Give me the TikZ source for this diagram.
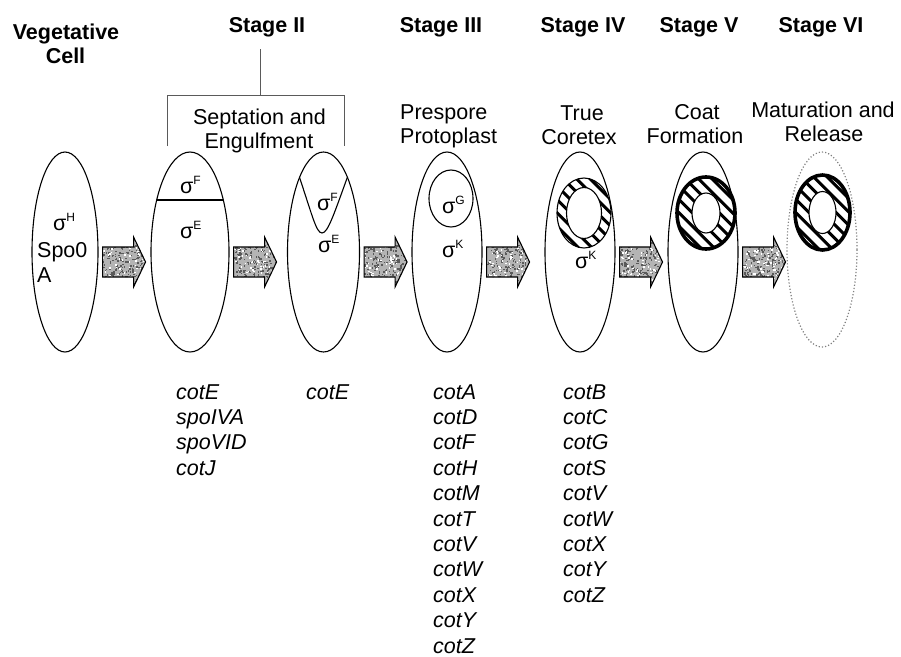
\documentclass[tikz,border=0pt]{standalone}
\usepackage{fontspec}
\setmainfont{Liberation Sans}
\usepackage{tikz}
\usetikzlibrary{shapes.geometric, positioning, calc}

\definecolor{arrowgrey}{RGB}{180,180,180}
\definecolor{speckgrey}{RGB}{90,90,90}
\definecolor{bracketgrey}{RGB}{90,90,90}

% sigma factor with raised letter
\newcommand{\sfactor}[1]{σ\raisebox{9pt}{\fontsize{12}{12}\selectfont #1}}

% outline of a block arrow starting at the shaft's left middle
\newcommand{\arrowoutline}[1]{(#1) -- ++(0,-15) -- ++(31,0) -- ++(0,-10) -- ++(12,25)
  -- ++(-12,25) -- ++(0,-10) -- ++(-31,0) -- cycle}

% grainy block arrow to the right of a cell
\newcommand{\stagearrow}[2]{%
  \path ([shift={(4,10)}]#1.east) coordinate (#2);
  \fill[arrowgrey] \arrowoutline{#2};
  \begin{scope}
    \clip \arrowoutline{#2};
    \foreach \s in {1,...,260}
      \fill[speckgrey] ($(#2)+(rnd*44, rnd*54-27)$) rectangle ++(1.5,1.5);
    \foreach \s in {1,...,90}
      \fill[white] ($(#2)+(rnd*44, rnd*54-27)$) rectangle ++(1.5,1.5);
  \end{scope}
  \draw[line width=1.1pt] \arrowoutline{#2};
}

% hatched spore ring: centre, outer rx, outer ry, inner rx, inner ry, rim width
\newcommand{\sporering}[6]{%
  \begin{scope}
    \clip (#1) ellipse (#2pt and #3pt);
    \fill[white] (#1) ellipse (#2pt and #3pt);
    \foreach \k in {-8,...,8}
      \draw[line width=3pt] ($(#1)+(\k*13.4-50,-50)$) -- ++(100,100);
  \end{scope}
  \draw[line width=1.1pt, fill=white] (#1) ellipse (#4pt and #5pt);
  \draw[line width=#6] (#1) ellipse (#2pt and #3pt);
}

\tikzset{
  cell/.style={ellipse, draw, line width=1.1pt, inner sep=0pt},
  title/.style={font=\fontsize{21.5}{24}\selectfont\bfseries, anchor=base, inner sep=0pt},
  caption/.style={font=\fontsize{21.5}{24}\selectfont, anchor=base, inner sep=0pt},
  genes/.style={font=\fontsize{21.5}{25.4}\selectfont\itshape, anchor=base west, inner sep=0pt},
  sigma/.style={font=\fontsize{21.5}{24}\selectfont, anchor=base west, inner sep=0pt},
  bracket/.style={draw=bracketgrey, line width=1pt}
}

\begin{document}
\begin{tikzpicture}[x=1pt, y=-1pt]
  \useasboundingbox (0,0) rectangle (901,656);
  \pgfmathsetseed{4711}

  % Stage headings
  \node[title] (vegtitle) at (66,39) {Vegetative};
  \node[title] (vegtitlecell) at (65.5,63) {Cell};
  \node[title] (stageII) at (267,32) {Stage II};
  \node[title] (stageIII) at (441,32) {Stage III};
  \node[title] (stageIV) at (583,32) {Stage IV};
  \node[title] (stageV) at (699,32) {Stage V};
  \node[title] (stageVI) at (821,32) {Stage VI};

  % Bracket over the two Stage II cells
  \coordinate (brtop) at (260,49);
  \coordinate (brmid) at (260,95);
  \coordinate (brleft) at (167,95);
  \coordinate (brright) at (344,95);
  \coordinate (brleftend) at (167,146);
  \coordinate (brrightend) at (344,146);
  \draw[bracket] (brtop) -- (brmid);
  \draw[bracket] (brleftend) -- (brleft) -- (brright) -- (brrightend);

  % Captions
  \node[caption] (septcap) at (259.5,124) {Septation and};
  \node[caption] (septcap2) at (259,148) {Engulfment};
  \node[caption, anchor=base west] (protcap) at (400,119) {Prespore};
  \node[caption, anchor=base west] (protcap2) at (400,143) {Protoplast};
  \node[caption] (cortcap) at (582,120) {True};
  \node[caption] (cortcap2) at (579,144) {Coretex};
  \node[caption] (coatcap) at (697,119) {Coat};
  \node[caption] (coatcap2) at (695,143) {Formation};
  \node[caption] (relcap) at (823,117) {Maturation and};
  \node[caption] (relcap2) at (824,141) {Release};

  % Cells
  \node[cell, minimum width=66pt, minimum height=200pt] (veg) at (65,252) {};
  \node[cell, minimum width=78pt, minimum height=200pt] (septum) at (190,252) {};
  \node[cell, minimum width=72pt, minimum height=200pt] (engulf) at (323.5,252) {};
  \node[cell, minimum width=70pt, minimum height=200pt] (prespore) at (447,252) {};
  \node[cell, minimum width=70pt, minimum height=200pt] (cortex) at (580,252) {};
  \node[cell, minimum width=70pt, minimum height=200pt] (coat) at (703,252) {};
  \node[cell, draw=gray, line width=1.2pt, dash pattern=on 1.2pt off 2pt,
    minimum width=70pt, minimum height=195pt] (release) at (822,249.5) {};

  % Septum and engulfing membrane
  \begin{scope}
    \clip (septum.center) ellipse (39pt and 100pt);
    \draw[line width=1.6pt] (145,200) -- (235,200);
  \end{scope}
  \begin{scope}
    \clip (engulf.center) ellipse (36pt and 100pt);
    \draw[line width=1.1pt] (297,170) .. controls (312,214) and (316,233) .. (322,233)
      .. controls (328,233) and (334,214) .. (350,170);
  \end{scope}
  \node[cell, minimum width=44pt, minimum height=57pt] (forespore) at (451,198.5) {};

  % Spore rings
  \coordinate (cortexcore) at (584,213);
  \sporering{cortexcore}{27}{35}{17.5}{25.5}{1.1pt}
  \coordinate (coatcore) at (706,213);
  \sporering{coatcore}{29}{36}{14}{20}{3.6pt}
  \coordinate (releasecore) at (822.5,212.5);
  \sporering{releasecore}{27.5}{37.5}{13.5}{21}{3.6pt}

  % Sigma factors
  \node[sigma] (sigH) at (53,230) {\sfactor{H}};
  \node[sigma] (spo) at (37,257) {Spo0};
  \node[sigma] (spoA) at (37,282) {A};
  \node[sigma] (sigF) at (180,193) {\sfactor{F}};
  \node[sigma] (sigE) at (180,238) {\sfactor{E}};
  \node[sigma] (sigFe) at (317,210) {\sfactor{F}};
  \node[sigma] (sigEe) at (318,252) {\sfactor{E}};
  \node[sigma] (sigG) at (442,213) {\sfactor{G}};
  \node[sigma] (sigK) at (442,257) {\sfactor{K}};
  \node[sigma] (sigKc) at (575,268) {\sfactor{K}};

  % Arrows between stages
  \stagearrow{veg}{a1}
  \stagearrow{septum}{a2}
  \stagearrow{engulf}{a3}
  \stagearrow{prespore}{a4}
  \stagearrow{cortex}{a5}
  \stagearrow{coat}{a6}

  % Genes
  \foreach \g [count=\i from 0] in {cotE, spoIVA, spoVID, cotJ}
    \node[genes] (septgene\i) at (176, 399+25.4*\i) {\g};
  \node[genes] (engulfgene) at (306,399) {cotE};
  \foreach \g [count=\i from 0] in {cotA, cotD, cotF, cotH, cotM, cotT, cotV, cotW, cotX, cotY, cotZ}
    \node[genes] (protgene\i) at (433, 399+25.4*\i) {\g};
  \foreach \g [count=\i from 0] in {cotB, cotC, cotG, cotS, cotV, cotW, cotX, cotY, cotZ}
    \node[genes] (cortgene\i) at (563, 399+25.4*\i) {\g};
\end{tikzpicture}
\end{document}
